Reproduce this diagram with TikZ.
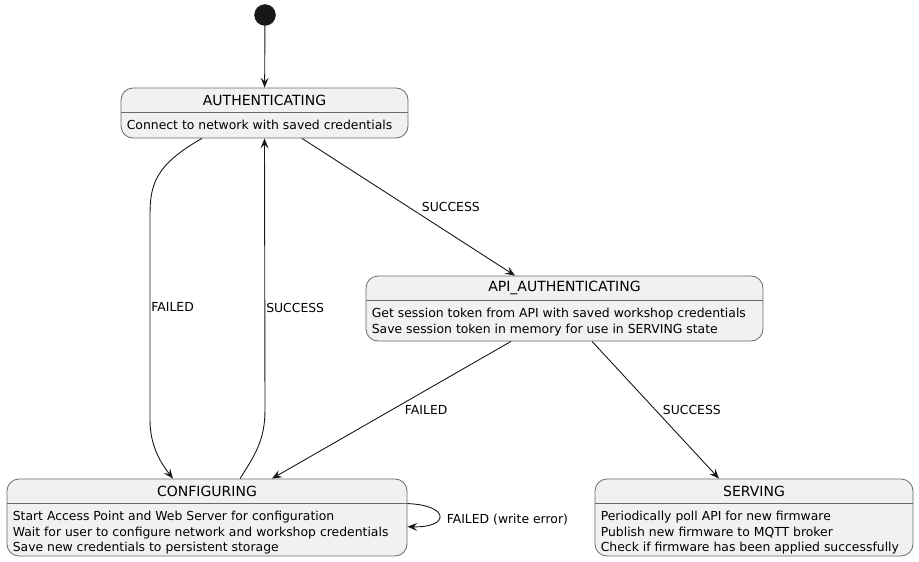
\documentclass[tikz,border=0pt]{standalone}
\usepackage{fontspec}
\setmainfont{DejaVu Sans}
\usetikzlibrary{arrows.meta}
\definecolor{statefill}{HTML}{F1F1F1}
\definecolor{stateline}{HTML}{6A6A6A}
\definecolor{edgeline}{HTML}{181818}
\tikzstyle{state}=[draw=stateline,fill=statefill,line width=0.8pt,rounded corners=12pt,inner sep=0pt]
\tikzstyle{startdot}=[circle,fill=edgeline,draw=edgeline,minimum size=21pt,inner sep=0pt]
\tikzstyle{title}=[font=\fontsize{14}{16}\selectfont,inner sep=0pt]
\tikzstyle{body}=[font=\fontsize{12.4}{15.3}\selectfont,align=left,anchor=north west,inner sep=0pt]
\tikzstyle{edge} = [draw=edgeline,line width=0.9pt,-{Stealth[length=10pt,width=8pt,inset=4pt]}]
\tikzstyle{weight} = [font=\fontsize{12.4}{14}\selectfont,inner sep=1pt]

\begin{document}
\begin{tikzpicture}[x=1pt,y=-1pt]
    \useasboundingbox (0,0) rectangle (919,562);

    \node[startdot] (start) at (265,15) {};

    \foreach \name/\pos/\w/\h/\title/\body in {
        auth/{(264.5,113)}/287/50/AUTHENTICATING/{Connect to network with saved credentials},
        api/{(564.5,308.5)}/397/65/API\_AUTHENTICATING/{Get session token from API with saved workshop credentials\\Save session token in memory for use in SERVING state},
        conf/{(207,517.5)}/400/77/CONFIGURING/{Start Access Point and Web Server for configuration\\Wait for user to configure network and workshop credentials\\Save new credentials to persistent storage},
        serv/{(754,517.5)}/318/77/SERVING/{Periodically poll API for new firmware\\Publish new firmware to MQTT broker\\Check if firmware has been applied successfully}}
    {
        \node[state,minimum width=\w pt,minimum height=\h pt] (\name) at \pos {};
        \draw[stateline,line width=0.8pt] ([yshift=-25pt]\name.north west) -- ([yshift=-25pt]\name.north east);
        \node[title] (\name-title) at ([yshift=-12.5pt]\name.north) {\title};
        \node[body] (\name-body) at ([xshift=6pt,yshift=-32.5pt]\name.north west) {\body};
    }

    % transitions
    \path[edge] (start) -- (auth);
    \path[edge] ([xshift=-62.5pt]auth.south) .. controls (155,165) and (150,185) .. (150,215)
        -- node[weight,right,pos=0.45] {FAILED} (150,420)
        .. controls (150,445) and (160,462) .. ([xshift=-34pt]conf.north);
    \path[edge] ([xshift=33pt]conf.north) .. controls (255,455) and (265,440) .. (265,410)
        -- node[weight,right,pos=0.375] {SUCCESS} (auth.south);
    \path[edge] ([xshift=37.5pt]auth.south) -- node[weight,anchor=west,xshift=12pt] {SUCCESS} ([xshift=-49.5pt]api.north);
    \path[edge] ([xshift=-53.5pt]api.south) -- node[weight,anchor=west,xshift=12pt] {FAILED} ([xshift=65pt]conf.north);
    \path[edge] ([xshift=27.5pt]api.south) -- node[weight,anchor=west,xshift=6pt] {SUCCESS} ([xshift=-35pt]serv.north);
    \path[edge] ([yshift=-25pt]conf.north east) .. controls (450,505) and (450,528) .. node[weight,anchor=west,xshift=6pt,yshift=-3pt] {FAILED (write error)} ([yshift=-48pt]conf.north east);
\end{tikzpicture}
\end{document}
